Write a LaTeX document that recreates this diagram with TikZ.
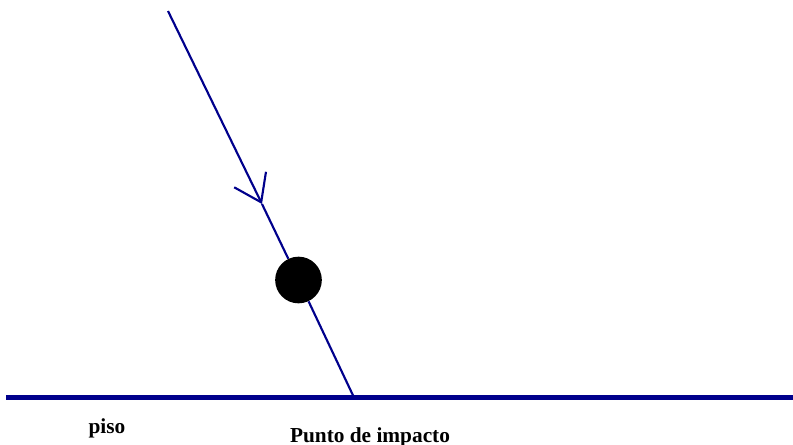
\documentclass[tikz,border=0pt]{standalone}
\usepackage{fontspec}
\setmainfont{Liberation Serif}
\usepackage{xcolor}
\definecolor{PathNavy}{RGB}{0, 0, 140}
\usetikzlibrary{arrows.meta, positioning, calc}

\begin{document}
\begin{tikzpicture}[x=0.75pt, y=-0.75pt, every node/.style={font=\fontsize{16}{18}\selectfont\bfseries}]
                \useasboundingbox (0,0) rectangle (793,444);
                \coordinate (start) at (168,11);
                \coordinate (tip) at (262,204);
                \coordinate (impact) at (354,397.5);
                \coordinate (floorL) at (6,397.5);
                \coordinate (floorR) at (793,397.5);
                \node[circle, fill=black, inner sep=0pt, minimum size=35pt] (ball) at (298.5,280) {};
                \draw[PathNavy, line width=1.6pt, -{Straight Barb[length=19pt, width=26.5pt]}] (start) -- (tip);
                \draw[PathNavy, line width=1.6pt] (tip) -- (ball);
                \draw[PathNavy, line width=1.6pt] (ball) -- (impact);
                \draw[PathNavy, line width=3.6pt] (floorL) -- (floorR);
                \node[anchor=base] (floor) at (107,433) {piso};
                \node[anchor=base] (impactlabel) at (370,442) {Punto de impacto};
            \end{tikzpicture}
\end{document}
